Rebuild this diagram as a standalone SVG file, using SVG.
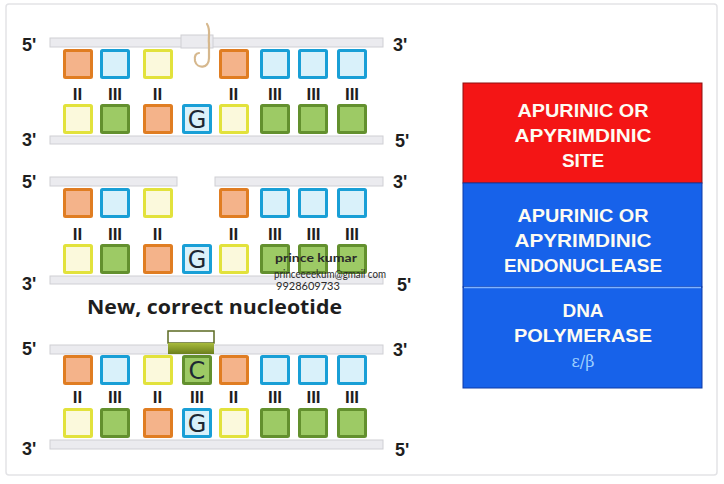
<svg xmlns="http://www.w3.org/2000/svg" width="724" height="484" viewBox="0 0 724 484">
  <defs>
    <style>
      .frame { fill: #ffffff; stroke: #e3e3e6; stroke-width: 1.5; }
      .bar { fill: #ebebef; stroke: #cfcfd4; stroke-width: 1; }
      .end { font-family: "Liberation Sans", Arial, sans-serif; font-weight: bold; font-size: 18px; fill: #1e1e1e; }
      .bond { font-family: "Liberation Sans", Arial, sans-serif; font-weight: bold; font-size: 17px; fill: #1e1e1e; text-anchor: middle; }
      .nt { stroke-width: 3; }
      .o { fill: #f4b38a; stroke: #e07d22; }
      .b { fill: #d9f1fa; stroke: #199fd6; }
      .y { fill: #fbf9dc; stroke: #e2e23c; }
      .g { fill: #9dca65; stroke: #63902e; }
      .base { font-family: "DejaVu Sans", "Liberation Sans", sans-serif; font-size: 24px; fill: #1d2833; text-anchor: middle; }
      .head { font-family: "Open Sans", "Liberation Sans", sans-serif; font-weight: bold; font-size: 20px; fill: #1e1e1e; }
      .mark { font-family: "Lato", "Liberation Sans", sans-serif; font-size: 11px; fill: #2a2a2a; }
      .panel { font-family: "Liberation Sans", Arial, sans-serif; font-weight: bold; font-size: 19px; fill: #fdfbf2; text-anchor: middle; }
      .greek { font-family: "DejaVu Serif", "Liberation Serif", serif; font-size: 16px; fill: #9fd0ff; text-anchor: middle; }
    </style>
    <linearGradient id="patch" x1="0" y1="0" x2="0" y2="1">
      <stop offset="0" stop-color="#a8bb3c"/>
      <stop offset="1" stop-color="#6b7e1c"/>
    </linearGradient>
  </defs>

  <!-- outer frame -->
  <rect class="frame" x="6" y="4" width="711" height="471" rx="3"/>

  <!-- ===== strand pair 1: AP site ===== -->
  <g id="strand1">
    <rect class="bar" x="50" y="38" width="333" height="9"/>
    <rect class="bar" x="181" y="35" width="32" height="13"/>
    <rect class="bar" x="50" y="136" width="333" height="8"/>
    <text class="end" x="22" y="51">5'</text>
    <text class="end" x="393" y="51">3'</text>
    <text class="end" x="22" y="146">3'</text>
    <text class="end" x="395" y="147">5'</text>
    <!-- sugar left at the AP site -->
    <path d="M207 24 C211 30 208 36 209 44 L209 58 C209 69 197 69 195 61 C194 56 196 53 199 53" fill="none" stroke="#d6b88e" stroke-width="2.2" stroke-linecap="round"/>
    <!-- upper bases -->
    <rect class="nt o" x="64.5" y="50.5" width="27" height="27" rx="1"/>
    <rect class="nt b" x="101.5" y="50.5" width="27" height="27" rx="1"/>
    <rect class="nt y" x="144.5" y="50.5" width="27" height="27" rx="1"/>
    <rect class="nt o" x="220.5" y="50.5" width="27" height="27" rx="1"/>
    <rect class="nt b" x="261.5" y="50.5" width="27" height="27" rx="1"/>
    <rect class="nt b" x="299.5" y="50.5" width="27" height="27" rx="1"/>
    <rect class="nt b" x="338.5" y="50.5" width="27" height="27" rx="1"/>
    <!-- hydrogen bonds -->
    <text class="bond" x="77.5" y="100">II</text>
    <text class="bond" x="115" y="100">III</text>
    <text class="bond" x="157.5" y="100">II</text>
    <text class="bond" x="233.5" y="100">II</text>
    <text class="bond" x="275" y="100">III</text>
    <text class="bond" x="313.5" y="100">III</text>
    <text class="bond" x="352" y="100">III</text>
    <!-- lower bases -->
    <rect class="nt y" x="64.5" y="105.5" width="27" height="27" rx="1"/>
    <rect class="nt g" x="101.5" y="105.5" width="27" height="27" rx="1"/>
    <rect class="nt o" x="144.5" y="105.5" width="27" height="27" rx="1"/>
    <rect class="nt b" x="183.5" y="105.5" width="27" height="27" rx="1"/>
    <text class="base" x="197" y="128">G</text>
    <rect class="nt y" x="220.5" y="105.5" width="27" height="27" rx="1"/>
    <rect class="nt g" x="261.5" y="105.5" width="27" height="27" rx="1"/>
    <rect class="nt g" x="299.5" y="105.5" width="27" height="27" rx="1"/>
    <rect class="nt g" x="338.5" y="105.5" width="27" height="27" rx="1"/>
  </g>

  <!-- ===== strand pair 2: backbone nicked ===== -->
  <g id="strand2">
    <rect class="bar" x="50" y="177" width="127" height="9"/>
    <rect class="bar" x="215" y="177" width="168" height="9"/>
    <rect class="bar" x="50" y="276" width="333" height="8"/>
    <text class="end" x="22" y="188">5'</text>
    <text class="end" x="393" y="188">3'</text>
    <text class="end" x="22" y="290">3'</text>
    <text class="end" x="397" y="291">5'</text>
    <rect class="nt o" x="64.5" y="189.5" width="27" height="27" rx="1"/>
    <rect class="nt b" x="101.5" y="189.5" width="27" height="27" rx="1"/>
    <rect class="nt y" x="144.5" y="189.5" width="27" height="27" rx="1"/>
    <rect class="nt o" x="220.5" y="189.5" width="27" height="27" rx="1"/>
    <rect class="nt b" x="261.5" y="189.5" width="27" height="27" rx="1"/>
    <rect class="nt b" x="299.5" y="189.5" width="27" height="27" rx="1"/>
    <rect class="nt b" x="338.5" y="189.5" width="27" height="27" rx="1"/>
    <text class="bond" x="77.5" y="240">II</text>
    <text class="bond" x="115" y="240">III</text>
    <text class="bond" x="157.5" y="240">II</text>
    <text class="bond" x="233.5" y="240">II</text>
    <text class="bond" x="275" y="240">III</text>
    <text class="bond" x="313.5" y="240">III</text>
    <text class="bond" x="352" y="240">III</text>
    <rect class="nt y" x="64.5" y="245.5" width="27" height="27" rx="1"/>
    <rect class="nt g" x="101.5" y="245.5" width="27" height="27" rx="1"/>
    <rect class="nt o" x="144.5" y="245.5" width="27" height="27" rx="1"/>
    <rect class="nt b" x="183.5" y="245.5" width="27" height="27" rx="1"/>
    <text class="base" x="197" y="268">G</text>
    <rect class="nt y" x="220.5" y="245.5" width="27" height="27" rx="1"/>
    <rect class="nt g" x="261.5" y="245.5" width="27" height="27" rx="1"/>
    <rect class="nt g" x="299.5" y="245.5" width="27" height="27" rx="1"/>
    <rect class="nt g" x="338.5" y="245.5" width="27" height="27" rx="1"/>
  </g>

  <!-- ===== strand pair 3: gap filled ===== -->
  <g id="strand3">
    <text class="head" x="87" y="314" textLength="255" lengthAdjust="spacingAndGlyphs">New, correct nucleotide</text>
    <rect class="bar" x="50" y="345" width="333" height="9"/>
    <rect x="168" y="331" width="46" height="12" fill="#ffffff" stroke="#5b6a22" stroke-width="1.5"/>
    <rect x="168" y="343" width="46" height="11" fill="url(#patch)"/>
    <rect class="bar" x="50" y="440" width="333" height="9"/>
    <text class="end" x="22" y="355">5'</text>
    <text class="end" x="393" y="356">3'</text>
    <text class="end" x="22" y="455">3'</text>
    <text class="end" x="395" y="456">5'</text>
    <rect class="nt o" x="64.5" y="356.5" width="27" height="27" rx="1"/>
    <rect class="nt b" x="101.5" y="356.5" width="27" height="27" rx="1"/>
    <rect class="nt y" x="144.5" y="356.5" width="27" height="27" rx="1"/>
    <rect class="nt g" x="183.5" y="356.5" width="27" height="27" rx="1"/>
    <text class="base" x="197" y="379">C</text>
    <rect class="nt o" x="220.5" y="356.5" width="27" height="27" rx="1"/>
    <rect class="nt b" x="261.5" y="356.5" width="27" height="27" rx="1"/>
    <rect class="nt b" x="299.5" y="356.5" width="27" height="27" rx="1"/>
    <rect class="nt b" x="338.5" y="356.5" width="27" height="27" rx="1"/>
    <text class="bond" x="77.5" y="403">II</text>
    <text class="bond" x="115" y="403">III</text>
    <text class="bond" x="157.5" y="403">II</text>
    <text class="bond" x="197" y="403">III</text>
    <text class="bond" x="233.5" y="403">II</text>
    <text class="bond" x="275" y="403">III</text>
    <text class="bond" x="313.5" y="403">III</text>
    <text class="bond" x="352" y="403">III</text>
    <rect class="nt y" x="64.5" y="409.5" width="27" height="27" rx="1"/>
    <rect class="nt g" x="101.5" y="409.5" width="27" height="27" rx="1"/>
    <rect class="nt o" x="144.5" y="409.5" width="27" height="27" rx="1"/>
    <rect class="nt b" x="183.5" y="409.5" width="27" height="27" rx="1"/>
    <text class="base" x="197" y="432">G</text>
    <rect class="nt y" x="220.5" y="409.5" width="27" height="27" rx="1"/>
    <rect class="nt g" x="261.5" y="409.5" width="27" height="27" rx="1"/>
    <rect class="nt g" x="299.5" y="409.5" width="27" height="27" rx="1"/>
    <rect class="nt g" x="338.5" y="409.5" width="27" height="27" rx="1"/>
  </g>

  <!-- author stamp -->
  <g id="stamp">
    <text class="mark" x="275" y="262" textLength="82" lengthAdjust="spacingAndGlyphs" font-weight="bold">prince kumar</text>
    <text class="mark" x="274" y="278" textLength="112" lengthAdjust="spacingAndGlyphs">princeeeekum@gmail com</text>
    <text class="mark" x="276" y="290" font-size="9">9928609733</text>
  </g>

  <!-- ===== legend column ===== -->
  <g id="ap-site">
    <rect x="463" y="83" width="239" height="100" fill="#f41515" stroke="#8e1010" stroke-width="1"/>
    <text class="panel" x="583" y="117" textLength="131" lengthAdjust="spacingAndGlyphs">APURINIC OR</text>
    <text class="panel" x="583" y="142" textLength="137" lengthAdjust="spacingAndGlyphs">APYRIMDINIC</text>
    <text class="panel" x="583" y="167">SITE</text>
  </g>
  <g id="ap-endonuclease">
    <rect x="463" y="183" width="239" height="104" fill="#1762ea" stroke="#0f3aa8" stroke-width="1"/>
    <text class="panel" x="583" y="222" textLength="131" lengthAdjust="spacingAndGlyphs">APURINIC OR</text>
    <text class="panel" x="583" y="247" textLength="137" lengthAdjust="spacingAndGlyphs">APYRIMDINIC</text>
    <text class="panel" x="583" y="272" textLength="158" lengthAdjust="spacingAndGlyphs">ENDONUCLEASE</text>
  </g>
  <g id="dna-polymerase">
    <rect x="463" y="287" width="239" height="101" fill="#1762ea" stroke="#0f3aa8" stroke-width="1"/>
    <line x1="464" y1="287.5" x2="701" y2="287.5" stroke="#7fb3ff" stroke-width="1.5"/>
    <text class="panel" x="583" y="317">DNA</text>
    <text class="panel" x="583" y="342" textLength="138" lengthAdjust="spacingAndGlyphs">POLYMERASE</text>
    <text class="greek" x="583" y="367">ε/β</text>
  </g>
</svg>
